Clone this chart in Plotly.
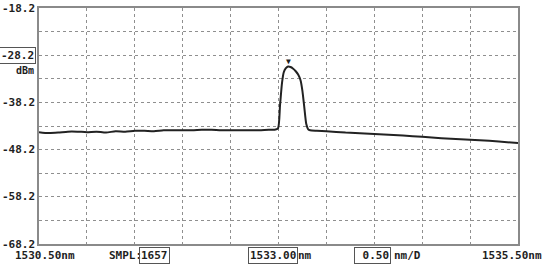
import plotly.graph_objects as go

# spectrum trace (nm, dBm)
wavelength = [1530.50, 1530.60, 1530.70, 1530.80, 1530.90, 1531.00, 1531.10, 1531.20,
              1531.30, 1531.40, 1531.50, 1531.60, 1531.70, 1531.80, 1531.90, 1532.00,
              1532.10, 1532.20, 1532.30, 1532.40, 1532.50, 1532.60, 1532.70, 1532.80,
              1532.90, 1532.96, 1532.995, 1533.016, 1533.037, 1533.055, 1533.075, 1533.10,
              1533.125, 1533.15, 1533.18, 1533.205, 1533.23, 1533.25, 1533.268, 1533.29,
              1533.31, 1533.33, 1533.40, 1533.50, 1533.70, 1533.90, 1534.10, 1534.30,
              1534.50, 1534.70, 1534.90, 1535.10, 1535.30, 1535.50]
power = [-44.5, -44.7, -44.6, -44.4, -44.4, -44.5, -44.4, -44.6,
         -44.3, -44.4, -44.2, -44.2, -44.3, -44.1, -44.1, -44.1,
         -44.1, -44.0, -44.0, -44.1, -44.1, -44.1, -44.1, -44.1,
         -44.0, -44.0, -43.7, -38.8, -34.0, -31.8, -31.0, -30.6,
         -30.7, -31.0, -31.6, -32.3, -33.5, -35.8, -39.0, -42.8,
         -43.9, -44.1, -44.2, -44.3, -44.6, -44.8, -45.0, -45.2,
         -45.5, -45.8, -46.0, -46.2, -46.5, -46.8]

peak_wl = [1533.10]
peak_dbm = [-30.6]

y_ticks = [-18.2, -28.2, -38.2, -48.2, -58.2, -68.2]
y_grid = [-18.2, -23.2, -28.2, -33.2, -38.2, -43.2, -48.2, -53.2, -58.2, -63.2, -68.2]
x_grid = [1530.5, 1531.0, 1531.5, 1532.0, 1532.5, 1533.0, 1533.5, 1534.0, 1534.5, 1535.0, 1535.5]

start_label = "1530.50nm"
stop_label = "1535.50nm"
center_label = "1533.00"
span_label = " 0.50"
smpl_label = "1657"

FONT = "DejaVu Sans Mono"
INK = "#1e1e1e"
FRAME = "#8a8a8a"

fig = go.Figure()
fig.add_trace(go.Scatter(x=wavelength, y=power, mode="lines",
                         line=dict(color="#222", width=2, shape="spline", smoothing=0.6),
                         hoverinfo="skip", showlegend=False))

fig.update_xaxes(range=[1530.5, 1535.5], tickvals=x_grid, showticklabels=False,
                 showgrid=True, gridcolor="#8f8f8f", griddash="dot", gridwidth=1,
                 showline=True, linecolor=FRAME, linewidth=2, mirror=True,
                 zeroline=False, ticks="")
fig.update_yaxes(range=[-68.2, -18.2], tickvals=y_grid, showticklabels=False,
                 showgrid=True, gridcolor="#8f8f8f", griddash="dot", gridwidth=1,
                 showline=True, linecolor=FRAME, linewidth=2, mirror=True,
                 zeroline=False, ticks="")

anns = []
for v in y_ticks:
    boxed = v == -28.2
    anns.append(dict(x=0, xref="paper", y=v, yref="y", text=str(v), showarrow=False,
                     xanchor="right", xshift=-3, yanchor="middle",
                     font=dict(family=FONT, size=11, color=INK, weight="bold"),
                     bordercolor="#555" if boxed else None, borderwidth=1 if boxed else 0,
                     borderpad=1))
anns.append(dict(x=0, xref="paper", y=-28.2, yref="y", text="dBm", showarrow=False,
                 xanchor="right", xshift=-3, yanchor="top", yshift=-8,
                 font=dict(family=FONT, size=10, color=INK, weight="bold")))

# peak marker
anns.append(dict(x=peak_wl[0], y=peak_dbm[0], text="▼", showarrow=False,
                 yanchor="bottom", yshift=-1,
                 font=dict(family=FONT, size=8, color=INK)))

# bottom status line
bot = dict(yref="paper", y=0, yanchor="top", yshift=-3, showarrow=False, xref="paper")
f = dict(family=FONT, size=11, color=INK, weight="bold")
anns += [
    dict(bot, x=-0.055, xanchor="left", text=start_label, font=f),
    dict(bot, x=1.055, xanchor="right", text=stop_label, font=f),
    dict(bot, x=0.142, xanchor="left", text="SMPL:", font=f),
    dict(bot, x=0.208, xanchor="left", text=smpl_label, font=f,
         bordercolor="#555", borderwidth=1, borderpad=1),
    dict(bot, x=0.436, xanchor="left", text=center_label, font=f,
         bordercolor="#555", borderwidth=1, borderpad=1),
    dict(bot, x=0.536, xanchor="left", text="nm", font=f),
    dict(bot, x=0.657, xanchor="left", text=span_label, font=f,
         bordercolor="#555", borderwidth=1, borderpad=1),
    dict(bot, x=0.736, xanchor="left", text="nm/D", font=f),
]

fig.update_layout(width=550, height=268, margin=dict(l=39, r=32, t=6, b=24),
                  paper_bgcolor="white", plot_bgcolor="white", annotations=anns)

fig.write_html("out.html", config={"displayModeBar": False},
               post_script="document.body.style.margin='0';")
